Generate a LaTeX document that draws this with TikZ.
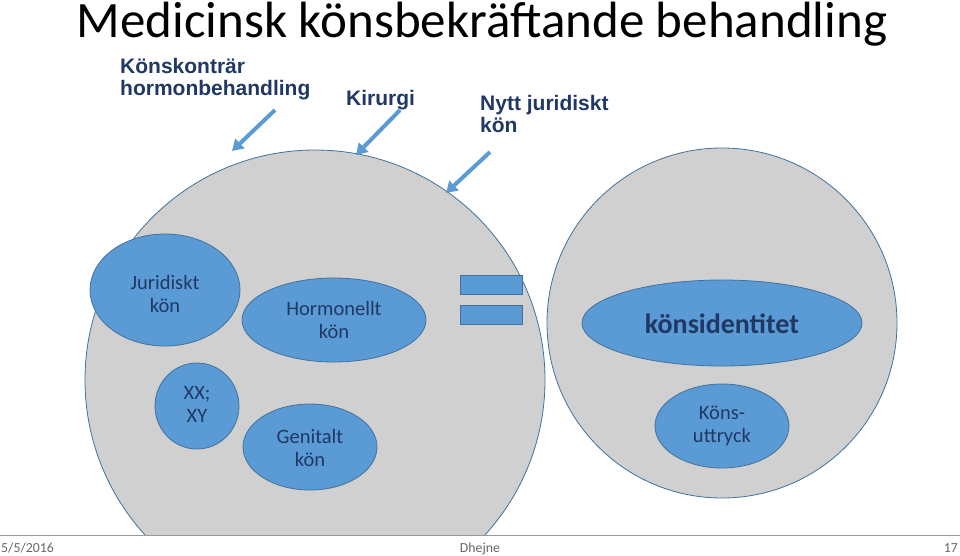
\documentclass[tikz,border=0pt]{standalone}
\usepackage{fontspec}
\setmainfont{Carlito}
\newfontfamily\arial{Liberation Sans}
\usetikzlibrary{arrows.meta}
\definecolor{bl}{HTML}{5B9BD5}
\definecolor{bd}{HTML}{41719C}
\definecolor{tx}{HTML}{1F3864}
\definecolor{gr}{HTML}{D0D0D0}
\tikzset{
 big/.style={draw=bd,fill=gr,line width=0.8pt},
 ell/.style={draw=bd,fill=bl,line width=0.8pt},
 etxt/.style={text=tx,align=center,font=\fontsize{20.5}{23}\selectfont},
 lab/.style={font=\arial\bfseries\fontsize{21}{22}\selectfont,align=left,anchor=north west,inner sep=0pt,text=tx},
 arr/.style={draw=bl,line width=4pt,-{Triangle[length=11pt,width=13pt]}},
 eq/.style={draw=bd,fill=bl,line width=0.8pt},
 foot/.style={font=\fontsize{13.8}{14}\selectfont,text=black!60,inner sep=0pt}
}
\begin{document}
\begin{tikzpicture}[x=1pt,y=-1pt]
\useasboundingbox (0,0) rectangle (960,555);
\begin{scope}
\clip (0,0) rectangle (960,535);
\draw[big] (315,380) circle[x radius=230,y radius=230];
\end{scope}
\draw[big] (722,323) circle[radius=175];
\node[anchor=base,inner sep=0pt,font=\fontsize{51}{51}\selectfont] (title) at (482,37) {Medicinsk könsbekräftande behandling};
\node[lab] (l1) at (120,58) {Könskonträr\\hormonbehandling};
\node[lab] (l2) at (346,90) {Kirurgi};
\node[lab] (l3) at (480,95) {Nytt juridiskt\\kön};
\coordinate (a1s) at (275,110); \coordinate (a1e) at (232,151);
\coordinate (a2s) at (400,110); \coordinate (a2e) at (356,155);
\coordinate (a3s) at (490,152); \coordinate (a3e) at (446,193);
\draw[arr] (a1s) -- (a1e);
\draw[arr] (a2s) -- (a2e);
\draw[arr] (a3s) -- (a3e);
\draw[ell] (165,290) circle[x radius=75,y radius=56];
\node[etxt] (jur) at (165,294) {Juridiskt\\kön};
\draw[ell] (334,320) circle[x radius=92,y radius=42];
\node[etxt] (hor) at (334,320) {Hormonellt\\kön};
\draw[ell] (197,406) circle[x radius=42,y radius=43];
\node[etxt] (xx) at (197,404) {XX;\\XY};
\draw[ell] (310,447) circle[x radius=67,y radius=43];
\node[etxt] (gen) at (310,448) {Genitalt\\kön};
\draw[ell] (722,323) circle[x radius=140,y radius=43];
\node[text=tx,font=\bfseries\fontsize{28}{30}\selectfont] (ki) at (722,324) {könsidentitet};
\draw[ell] (722,426) circle[x radius=67,y radius=42];
\node[etxt] (ku) at (722,426) {Köns-\\uttryck};
\draw[eq] (460,275) rectangle (522,294);
\draw[eq] (460,305) rectangle (522,324);
\draw[black!40,line width=0.6pt] (0,535) -- (960,535);
\node[foot,anchor=base west] (d) at (1,552) {5/5/2016};
\node[foot,anchor=base] (n) at (480,552) {Dhejne};
\node[foot,anchor=base east] (p) at (958,552) {17};
\end{tikzpicture}
\end{document}
